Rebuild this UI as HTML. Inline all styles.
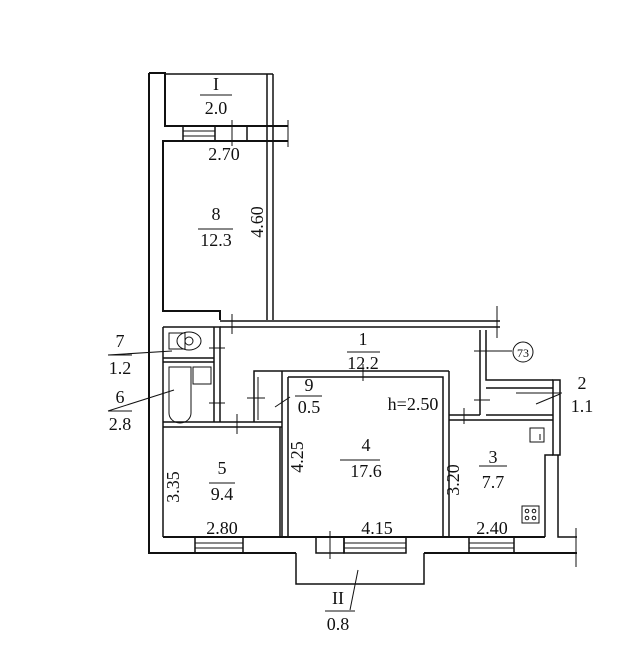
<!DOCTYPE html>
<html><head><meta charset="utf-8"><style>
html,body{margin:0;padding:0;background:#fff;}
svg{display:block}
text{font-family:"Liberation Serif",serif;fill:#111;}
</style></head><body>
<svg width="643" height="670" viewBox="0 0 643 670" xmlns="http://www.w3.org/2000/svg">
<g fill="none" stroke="#111" stroke-width="2">
<path d="M149,73 L165,73 L165,126 L288,126 M149,73 L149,553 L296,553 M424,553 L577,553"/>
<path d="M165,141 L288,141 M165,141 L163,141 L163,311 L220,311 L220,320"/>
<line x1="288" y1="120" x2="288" y2="147" stroke-width="1"/>
<line x1="183" y1="126" x2="183" y2="141" stroke-width="1.5"/>
<line x1="215" y1="126" x2="215" y2="141" stroke-width="1.5"/>
<line x1="247" y1="126" x2="247" y2="141" stroke-width="1.5"/>
<g stroke-width="1"><line x1="183" y1="131" x2="215" y2="131"/><line x1="183" y1="136" x2="215" y2="136"/></g>
<line x1="232" y1="120" x2="232" y2="146" stroke-width="1"/>
<line x1="165" y1="74" x2="273" y2="74" stroke-width="1.5"/>
<line x1="267" y1="74" x2="267" y2="320" stroke-width="1.5"/>
<line x1="273" y1="74" x2="273" y2="320" stroke-width="1.5"/>
<line x1="220" y1="321" x2="500" y2="321" stroke-width="1.5"/>
<line x1="220" y1="327" x2="500" y2="327" stroke-width="1.5"/>
<line x1="232" y1="314" x2="232" y2="334" stroke-width="1"/>
<line x1="497" y1="306" x2="497" y2="338" stroke-width="1"/>
<path d="M163,327 L163,537 M163,327 L220,327 L220,422" stroke-width="1.5"/>
<line x1="214" y1="327" x2="214" y2="422" stroke-width="1.5"/>
<line x1="163" y1="358" x2="214" y2="358" stroke-width="1.5"/>
<line x1="163" y1="362" x2="214" y2="362" stroke-width="1.5"/>
<line x1="163" y1="422" x2="282" y2="422" stroke-width="1.5"/>
<line x1="163" y1="427" x2="282" y2="427" stroke-width="1.5"/>
<g stroke-width="1">
<line x1="209" y1="348" x2="225" y2="348"/><line x1="209" y1="403" x2="225" y2="403"/>
<line x1="237" y1="414" x2="237" y2="434"/>
<rect x="169" y="333" width="16" height="16"/><ellipse cx="189" cy="341" rx="12" ry="9"/><circle cx="189" cy="341" r="4"/>
<path d="M169,367 h22 v46 a11,10 0 0 1 -22,0 z"/>
<rect x="193" y="367" width="18" height="17"/>
</g>
<path d="M254,422 L254,371 L449,371" stroke-width="1.5"/>
<line x1="258" y1="377" x2="258" y2="420" stroke-width="1"/>
<line x1="247" y1="398" x2="265" y2="398" stroke-width="1"/>
<line x1="363" y1="364" x2="363" y2="381" stroke-width="1"/>
<line x1="290" y1="397" x2="275" y2="407" stroke-width="1"/>
<path d="M282,371 L282,537 M288,377 L288,537 M288,377 L443,377 L443,537 M449,371 L449,537" stroke-width="1.5"/>
<line x1="280" y1="427" x2="280" y2="537" stroke-width="1.5"/>
<line x1="163" y1="537" x2="545" y2="537" stroke-width="2"/>
<g stroke-width="1.5">
<rect x="195" y="537" width="48" height="16"/><rect x="316" y="537" width="28" height="16"/>
<rect x="344" y="537" width="62" height="16"/><rect x="469" y="537" width="45" height="16"/>
</g>
<g stroke-width="1">
<line x1="195" y1="543" x2="243" y2="543"/><line x1="195" y1="548" x2="243" y2="548"/>
<line x1="344" y1="543" x2="406" y2="543"/><line x1="344" y1="548" x2="406" y2="548"/>
<line x1="469" y1="543" x2="514" y2="543"/><line x1="469" y1="548" x2="514" y2="548"/>
<line x1="330" y1="531" x2="330" y2="559"/>
</g>
<path d="M296,553 L296,584 L424,584 L424,553" stroke-width="1.5"/>
<line x1="358" y1="570" x2="350" y2="610" stroke-width="1"/>
<path d="M480,330 L480,415 M486,330 L486,380 L553,380 M486,388 L553,388 M486,415 L553,415 M449,415 L480,415 M449,420 L553,420" stroke-width="1.5"/>
<rect x="553" y="380" width="7" height="75" stroke-width="1.5"/>
<path d="M545,537 L545,455 L553,455 M558,455 L558,537 L577,537" stroke-width="1.5"/>
<line x1="576" y1="528" x2="576" y2="567" stroke-width="1"/>
<g stroke-width="1">
<line x1="474" y1="351" x2="512" y2="351"/><circle cx="523" cy="352" r="10"/>
<line x1="474" y1="400" x2="490" y2="400"/><line x1="464" y1="408" x2="464" y2="424"/>
<line x1="536" y1="404" x2="560" y2="394"/>
<rect x="530" y="428" width="14" height="14"/><line x1="540" y1="434" x2="540" y2="440"/>
<rect x="522" y="506" width="17" height="17"/>
<circle cx="527" cy="511" r="1.8"/><circle cx="534" cy="511" r="1.8"/><circle cx="527" cy="518" r="1.8"/><circle cx="534" cy="518" r="1.8"/>
<line x1="108" y1="355" x2="172" y2="351"/><line x1="108" y1="411" x2="174" y2="390"/>
<line x1="200" y1="95" x2="232" y2="95"/><line x1="198" y1="229" x2="233" y2="229"/>
<line x1="295" y1="396" x2="322" y2="396"/>
<line x1="347" y1="352" x2="380" y2="352"/><line x1="340" y1="460" x2="380" y2="460"/>
<line x1="209" y1="483" x2="235" y2="483"/><line x1="479" y1="466" x2="507" y2="466"/>
<line x1="516" y1="393" x2="562" y2="393"/><line x1="325" y1="611" x2="355" y2="611"/>
<line x1="108" y1="355" x2="132" y2="355"/><line x1="108" y1="411" x2="132" y2="411"/>
</g>
</g>
<g font-size="18" text-anchor="middle">
<text x="216" y="90">I</text><text x="216" y="114">2.0</text>
<text x="224" y="160">2.70</text>
<text x="216" y="220">8</text><text x="216" y="246">12.3</text>
<text transform="translate(263,222) rotate(-90)">4.60</text>
<text x="363" y="345">1</text><text x="363" y="369">12.2</text>
<text x="120" y="347">7</text><text x="120" y="374">1.2</text>
<text x="120" y="403">6</text><text x="120" y="430">2.8</text>
<text x="309" y="391">9</text><text x="309" y="413">0.5</text>
<text x="413" y="410">h=2.50</text>
<text x="366" y="451">4</text><text x="366" y="477">17.6</text>
<text transform="translate(303,457) rotate(-90)">4.25</text>
<text x="222" y="474">5</text><text x="222" y="500">9.4</text>
<text transform="translate(179,487) rotate(-90)">3.35</text>
<text x="493" y="463">3</text><text x="493" y="488">7.7</text>
<text transform="translate(459,480) rotate(-90)">3.20</text>
<text x="222" y="534">2.80</text><text x="377" y="534">4.15</text><text x="492" y="534">2.40</text>
<text x="582" y="389">2</text><text x="582" y="412">1.1</text>
<text x="338" y="604">II</text><text x="338" y="630">0.8</text>
<text x="523" y="357" font-size="12">73</text>
</g>
</svg>
</body></html>
